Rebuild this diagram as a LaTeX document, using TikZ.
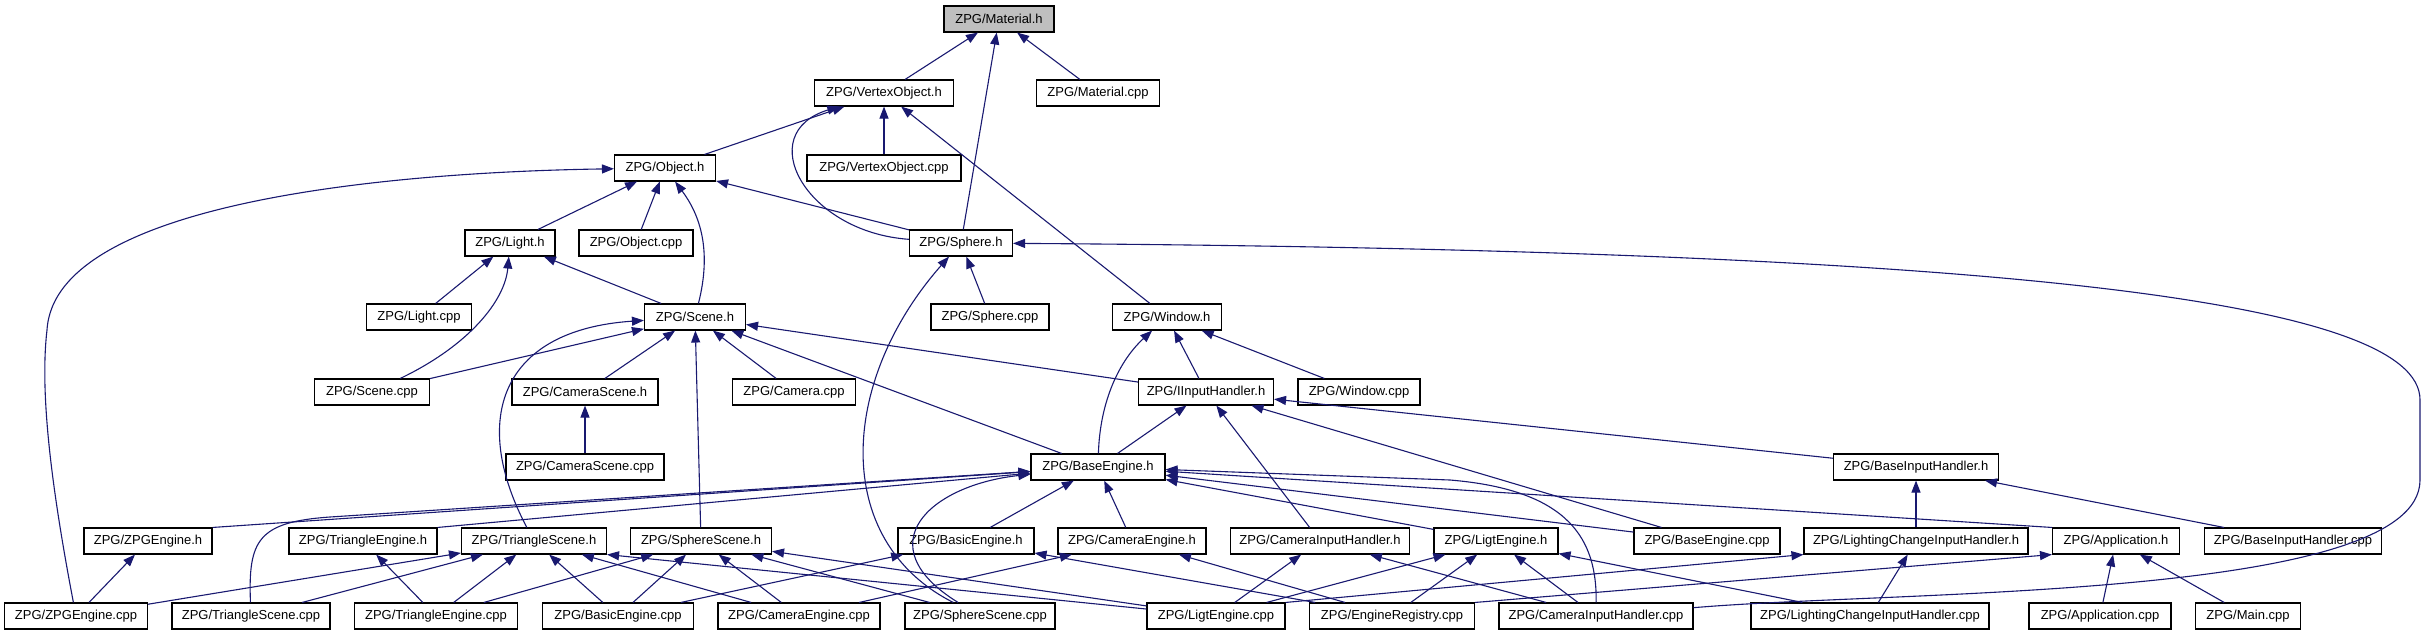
\documentclass[tikz,border=0pt]{standalone}
\usepackage{fontspec}
\setmainfont{Liberation Sans}
\usetikzlibrary{arrows.meta}
\definecolor{edgeblue}{RGB}{25,25,112}
\tikzset{
  file/.style={draw=black, line width=1.1pt, fill=white, minimum height=26pt, inner sep=0pt, font=\fontsize{13}{15}\selectfont},
  dep/.style={draw=edgeblue, line width=1.1pt, -{Triangle[length=12pt,width=9pt]}}
}
\begin{document}
\begin{tikzpicture}[x=1pt,y=-1pt]
\useasboundingbox (0,0) rectangle (2427,635);

% Главный файл
\node[file, fill=black!25, minimum width=110pt] (mat_h) at (999,19) {ZPG/Material.h};

% Ряды файлов
\foreach \nm/\x/\w/\txt in {vo_h/884/139/VertexObject.h, mat_cpp/1098/123/Material.cpp}
    \node[file, minimum width=\w pt] (\nm) at (\x,93) {ZPG/\txt};
\foreach \nm/\x/\w/\txt in {obj_h/665/101/Object.h, vo_cpp/884/154/VertexObject.cpp}
    \node[file, minimum width=\w pt] (\nm) at (\x,168) {ZPG/\txt};
\foreach \nm/\x/\w/\txt in {light_h/510/90/Light.h, obj_cpp/636/114/Object.cpp, sphere_h/961/103/Sphere.h}
    \node[file, minimum width=\w pt] (\nm) at (\x,243) {ZPG/\txt};
\foreach \nm/\x/\w/\txt in {light_cpp/419/105/Light.cpp, scene_h/695/101/Scene.h, sphere_cpp/990/118/Sphere.cpp, window_h/1167/109/Window.h}
    \node[file, minimum width=\w pt] (\nm) at (\x,317) {ZPG/\txt};
\foreach \nm/\x/\w/\txt in {scene_cpp/372/115/Scene.cpp, camscene_h/585/146/CameraScene.h, camera_cpp/794/123/Camera.cpp,
    iinput_h/1206/135/IInputHandler.h, window_cpp/1359/122/Window.cpp}
    \node[file, minimum width=\w pt] (\nm) at (\x,392) {ZPG/\txt};
\foreach \nm/\x/\w/\txt in {camscene_cpp/585/158/CameraScene.cpp, baseeng_h/1098/134/BaseEngine.h, baseinput_h/1916/165/BaseInputHandler.h}
    \node[file, minimum width=\w pt] (\nm) at (\x,467) {ZPG/\txt};
\foreach \nm/\x/\w/\txt in {zpgeng_h/148/128/ZPGEngine.h, trieng_h/363/148/TriangleEngine.h, triscene_h/534/145/TriangleScene.h,
    spherescene_h/701/141/SphereScene.h, basiceng_h/966/136/BasicEngine.h, cameng_h/1132/148/CameraEngine.h,
    caminput_h/1320/179/CameraInputHandler.h, ligteng_h/1496/124/LigtEngine.h, baseeng_cpp/1707/146/BaseEngine.cpp,
    lcih_h/1916/224/LightingChangeInputHandler.h, app_h/2116/127/Application.h, baseinput_cpp/2293/177/BaseInputHandler.cpp}
    \node[file, minimum width=\w pt] (\nm) at (\x,541) {ZPG/\txt};
\foreach \nm/\x/\w/\txt in {zpgeng_cpp/76/143/ZPGEngine.cpp, triscene_cpp/251/158/TriangleScene.cpp, trieng_cpp/436/163/TriangleEngine.cpp,
    basiceng_cpp/618/151/BasicEngine.cpp, cameng_cpp/799/162/CameraEngine.cpp, spherescene_cpp/980/150/SphereScene.cpp,
    ligteng_cpp/1216/138/LigtEngine.cpp, engreg_cpp/1392/165/EngineRegistry.cpp, caminput_cpp/1596/194/CameraInputHandler.cpp,
    lcih_cpp/1870/238/LightingChangeInputHandler.cpp, app_cpp/2100/142/Application.cpp, main_cpp/2248/105/Main.cpp}
    \node[file, minimum width=\w pt] (\nm) at (\x,616) {ZPG/\txt};

% Прямые зависимости
\foreach \a/\b in {vo_h/mat_h, sphere_h/mat_h, mat_cpp/mat_h, obj_h/vo_h, vo_cpp/vo_h, window_h/vo_h,
    light_h/obj_h, obj_cpp/obj_h, sphere_h/obj_h, light_cpp/light_h, scene_h/light_h, sphere_cpp/sphere_h,
    scene_cpp/scene_h, camscene_h/scene_h, camera_cpp/scene_h, spherescene_h/scene_h, baseeng_h/scene_h, iinput_h/scene_h,
    camscene_cpp/camscene_h, iinput_h/window_h, window_cpp/window_h,
    baseeng_h/iinput_h, caminput_h/iinput_h, baseeng_cpp/iinput_h, baseinput_h/iinput_h,
    basiceng_h/baseeng_h, cameng_h/baseeng_h, ligteng_h/baseeng_h, baseeng_cpp/baseeng_h,
    lcih_h/baseinput_h, baseinput_cpp/baseinput_h, zpgeng_cpp/zpgeng_h, trieng_cpp/trieng_h,
    zpgeng_cpp/triscene_h, triscene_cpp/triscene_h, trieng_cpp/triscene_h, basiceng_cpp/triscene_h, cameng_cpp/triscene_h,
    trieng_cpp/spherescene_h, basiceng_cpp/spherescene_h, cameng_cpp/spherescene_h, spherescene_cpp/spherescene_h, ligteng_cpp/spherescene_h,
    basiceng_cpp/basiceng_h, engreg_cpp/basiceng_h, cameng_cpp/cameng_h, engreg_cpp/cameng_h,
    ligteng_cpp/caminput_h, caminput_cpp/caminput_h, ligteng_cpp/ligteng_h, engreg_cpp/ligteng_h, caminput_cpp/ligteng_h, lcih_cpp/ligteng_h,
    lcih_cpp/lcih_h, app_cpp/app_h, main_cpp/app_h}
    \draw[dep] (\a) -- (\b);

% Через углы
\draw[dep] (zpgeng_h.north east) -- (baseeng_h);
\draw[dep] (trieng_h.north east) -- (baseeng_h);
\draw[dep] (app_h.north west) -- (baseeng_h);
\draw[dep] (ligteng_cpp) -- (triscene_h.south east);
\draw[dep] (ligteng_cpp.north east) -- (lcih_h.south west);
\draw[dep] (engreg_cpp.north east) -- (app_h.south west);

% Кривые
\draw[dep] (sphere_h) .. controls (805,232) and (752,133) .. (vo_h);
\draw[dep] (zpgeng_cpp) .. controls (50,480) and (40,390) .. (47,330) .. controls (55,200) and (400,172) .. (obj_h);
\draw[dep] (scene_h) .. controls (712,250) and (700,215) .. (obj_h);
\draw[dep] (scene_cpp) .. controls (470,345) and (505,300) .. (light_h);
\draw[dep] (spherescene_cpp) .. controls (830,540) and (840,380) .. (sphere_h);
\draw[dep] (caminput_cpp) .. controls (1900,590) and (2420,600) .. (2420,480) -- (2420,400)
    .. controls (2420,300) and (2000,250) .. (sphere_h);
\draw[dep] (triscene_h) .. controls (470,420) and (500,330) .. (scene_h);
\draw[dep] (baseeng_h) .. controls (1100,400) and (1120,360) .. (window_h);
\draw[dep] (triscene_cpp) .. controls (248,540) and (258,522) .. (330,517) -- (baseeng_h);
\draw[dep] (spherescene_cpp) .. controls (865,545) and (930,485) .. (baseeng_h);
\draw[dep] (caminput_cpp) .. controls (1597,540) and (1570,490) .. (1450,480) -- (baseeng_h);
\end{tikzpicture}
\end{document}
